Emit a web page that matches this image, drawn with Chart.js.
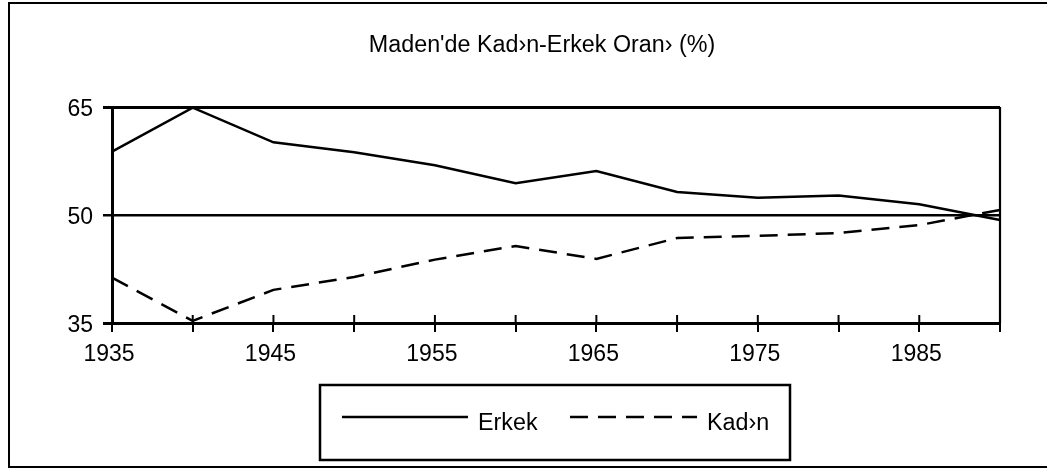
<!DOCTYPE html>
<html>
<head>
<meta charset="utf-8">
<script src="https://cdn.jsdelivr.net/npm/chart.js@4"></script>
<style>
  html, body { margin: 0; padding: 0; background: #fff; }
  #wrap { width: 1047px; height: 470px; position: relative; }
</style>
</head>
<body>
<div id="wrap"><canvas id="oranChart" width="1047" height="470"></canvas></div>
<script>
const years = ['1935', '1940', '1945', '1950', '1955', '1960', '1965', '1970', '1975', '1980', '1985', '1990'];
const erkek = [58.8, 64.9, 60.1, 58.7, 56.9, 54.4, 56.1, 53.2, 52.4, 52.7, 51.5, 49.3];
const kadin = [41.3, 35.3, 39.6, 41.4, 43.8, 45.7, 43.9, 46.8, 47.1, 47.5, 48.6, 50.7];
const yTicks = [35, 50, 65];
const chartTitle = "Maden'de Kad›n-Erkek Oran› (%)";

const FONT = '"Liberation Sans", Arial, sans-serif';

// frame, title, right border, inner x ticks and the boxed legend
const decorations = {
  id: 'decorations',
  afterDraw(chart) {
    const ctx = chart.ctx;
    const area = chart.chartArea;
    const x = chart.scales.x;
    ctx.save();
    ctx.strokeStyle = '#000';

    // outer frame
    ctx.lineWidth = 2;
    ctx.strokeRect(9, 3, 1060, 464);

    // right border of plot
    ctx.lineWidth = 2.2;
    ctx.beginPath();
    ctx.moveTo(area.right, area.top);
    ctx.lineTo(area.right, area.bottom);
    ctx.stroke();

    // ticks reaching into the plot
    ctx.lineWidth = 2;
    x.ticks.forEach((t, i) => {
      const px = x.getPixelForTick(i);
      ctx.beginPath();
      ctx.moveTo(px, area.bottom - 8);
      ctx.lineTo(px, area.bottom);
      ctx.stroke();
    });

    // title
    ctx.fillStyle = '#000';
    ctx.font = '23.3px ' + FONT;
    ctx.textAlign = 'center';
    ctx.textBaseline = 'middle';
    ctx.fillText(chartTitle, 542, 46);

    // legend box
    ctx.lineWidth = 2.5;
    ctx.strokeRect(320, 385, 470, 75);
    ctx.textAlign = 'left';
    const items = [[342, 468, 478], [570, 697, 707]];
    chart.data.datasets.forEach((ds, i) => {
      const [x0, x1, tx] = items[i];
      ctx.lineWidth = ds.borderWidth;
      ctx.setLineDash(ds.borderDash || []);
      ctx.beginPath();
      ctx.moveTo(x0, 417);
      ctx.lineTo(x1, 417);
      ctx.stroke();
      ctx.setLineDash([]);
      ctx.fillText(ds.label, tx, 424);
    });
    ctx.restore();
  }
};

new Chart(document.getElementById('oranChart'), {
  type: 'line',
  data: {
    labels: years,
    datasets: [{
      label: 'Erkek',
      data: erkek,
      borderColor: '#000',
      borderWidth: 2.5,
      pointRadius: 0,
      tension: 0
    }, {
      label: 'Kad›n',
      data: kadin,
      borderColor: '#000',
      borderWidth: 2.5,
      borderDash: [18, 10],
      pointRadius: 0,
      tension: 0
    }]
  },
  options: {
    responsive: false,
    animation: false,
    layout: {
      padding: { top: 107, right: 47, bottom: 97, left: 0 }
    },
    plugins: {
      legend: { display: false },
      title: { display: false },
      tooltip: { enabled: false }
    },
    scales: {
      x: {
        offset: false,
        afterFit: (s) => { s.height = 50; },
        border: { color: '#000', width: 3 },
        grid: {
          drawOnChartArea: false,
          drawTicks: true,
          tickLength: 9,
          color: '#000',
          lineWidth: 2
        },
        ticks: {
          color: '#000',
          font: { family: FONT, size: 23 },
          padding: 9,
          labelOffset: -3,
          maxRotation: 0,
          autoSkip: false,
          callback: (v, i) => (i % 2 === 0 && i < years.length - 1) ? years[i] : ''
        }
      },
      y: {
        min: 35,
        max: 65,
        afterFit: (s) => { s.width = 112; },
        afterBuildTicks: (s) => { s.ticks = yTicks.map(v => ({ value: v })); },
        border: { color: '#000', width: 3 },
        grid: {
          color: '#000',
          lineWidth: (c) => c.tick && c.tick.value === 50 ? 2.5 : 3,
          tickLength: 9
        },
        ticks: {
          color: '#000',
          font: { family: FONT, size: 23 },
          padding: 10,
          labelOffset: 3
        }
      }
    }
  },
  plugins: [decorations]
});
</script>
</body>
</html>
